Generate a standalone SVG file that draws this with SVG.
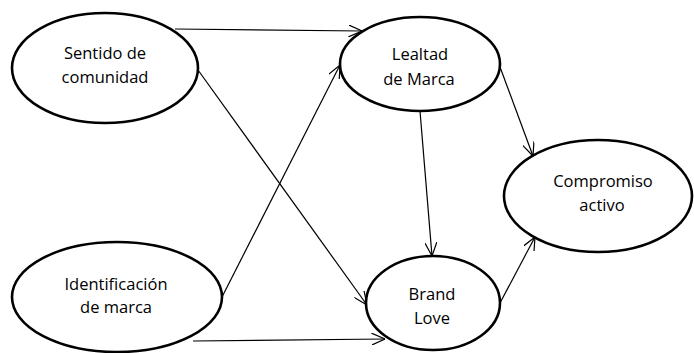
<svg xmlns="http://www.w3.org/2000/svg" width="694" height="353" viewBox="0 0 694 353">
<style>
.node ellipse{fill:#fff;stroke:#000;stroke-width:2.6}
.node text{font-family:"Open Sans","Noto Sans",sans-serif;font-size:16.5px;fill:#000;text-anchor:middle}
.edges line{stroke:#000;stroke-width:1.2;marker-end:url(#arr)}
</style>
<defs>
<marker id="arr" viewBox="0 0 14 12" refX="13.5" refY="6" markerWidth="14" markerHeight="12" markerUnits="userSpaceOnUse" orient="auto">
<path d="M0,0 L13.5,6 L0,12" fill="none" stroke="#000" stroke-width="1.2"/>
</marker>
</defs>
<rect width="694" height="353" fill="#fff"/>
<g class="edges">
<line x1="175" y1="29" x2="362" y2="31"/>
<line x1="222" y1="297" x2="340" y2="65"/>
<line x1="198" y1="70" x2="367" y2="305"/>
<line x1="193" y1="341" x2="385" y2="339"/>
<line x1="420" y1="111" x2="432" y2="256"/>
<line x1="500" y1="67" x2="533" y2="156"/>
<line x1="500" y1="303" x2="535" y2="237"/>
</g>
<g id="sentido" class="node">
<ellipse cx="105" cy="68" rx="93" ry="55"/>
<text x="105" y="59">Sentido de</text>
<text x="105" y="83">comunidad</text>
</g>
<g id="lealtad" class="node">
<ellipse cx="420" cy="64" rx="80" ry="47"/>
<text x="420" y="60">Lealtad</text>
<text x="419" y="85">de Marca</text>
</g>
<g id="compromiso" class="node">
<ellipse cx="598" cy="196" rx="94" ry="56"/>
<text x="603" y="187">Compromiso</text>
<text x="602" y="211">activo</text>
</g>
<g id="identificacion" class="node">
<ellipse cx="117" cy="297" rx="105" ry="55"/>
<text x="116" y="290">Identificación</text>
<text x="116" y="313">de marca</text>
</g>
<g id="brandlove" class="node">
<ellipse cx="433" cy="303" rx="67" ry="47"/>
<text x="432" y="300">Brand</text>
<text x="432" y="324">Love</text>
</g>
</svg>
